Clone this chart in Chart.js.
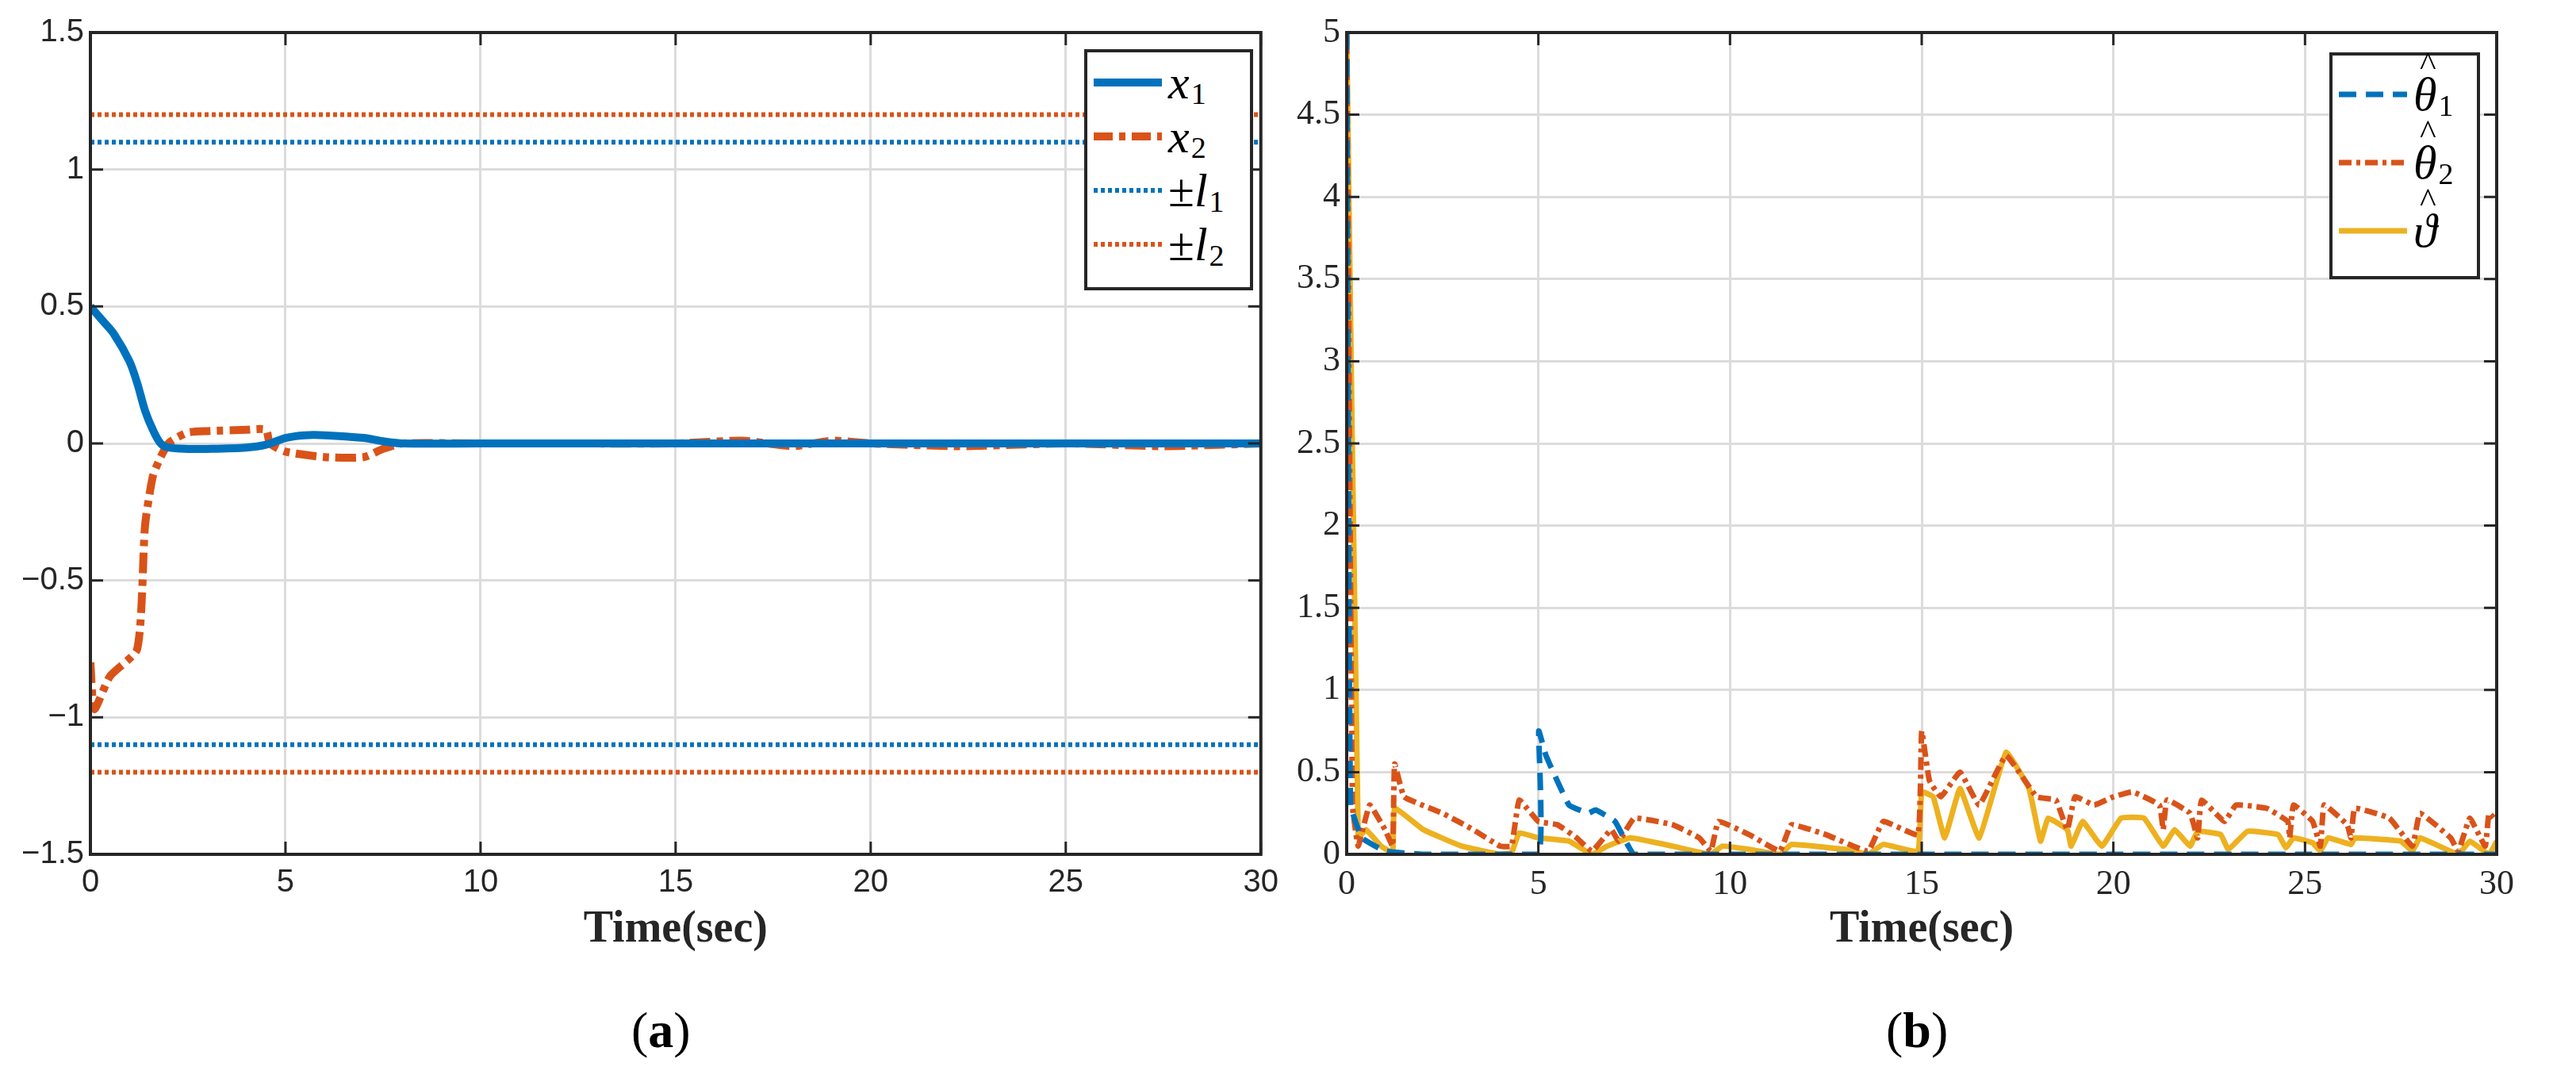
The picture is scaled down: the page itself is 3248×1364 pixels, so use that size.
<!DOCTYPE html>
<html><head><meta charset="utf-8">
<script src="https://cdn.jsdelivr.net/npm/chart.js@4/dist/chart.umd.min.js"></script>
<style>
body{margin:0;width:3248px;height:1364px;background:#fff;position:relative;overflow:hidden}
canvas{position:absolute}
.lg{position:absolute;border:4px solid #262626;background:#fff;font-family:"Liberation Serif",serif;font-style:italic;font-size:60px;color:#000}
.row{display:flex;align-items:center;height:68px;padding-left:8px;line-height:1}
.row svg{margin-right:8px}
.s{font-style:normal;font-size:38px;position:relative;top:14px;margin-left:2px}
.h{position:relative;display:inline-block}
.h i{position:absolute;left:8px;top:-30px;font-style:normal;font-size:44px}
.cap{position:absolute;top:1262px;font-family:"Liberation Serif",serif;font-size:64px}
</style></head><body>
<div style="position:absolute;left:0;top:0;width:1624px;height:1210px"><canvas id="c1"></canvas></div>
<div style="position:absolute;left:1624px;top:0;width:1624px;height:1210px"><canvas id="c2"></canvas></div>
<div class="lg" style="left:1367px;top:62px;width:205px;height:292px;padding-top:4px">
 <div class="row"><svg width="86" height="12"><line x1="0" y1="6" x2="86" y2="6" stroke="#0072BD" stroke-width="10"/></svg>x<span class="s">1</span></div>
 <div class="row"><svg width="86" height="12"><line x1="0" y1="6" x2="86" y2="6" stroke="#D95319" stroke-width="10" stroke-dasharray="24 8 8 8"/></svg>x<span class="s">2</span></div>
 <div class="row"><svg width="86" height="8"><line x1="0" y1="4" x2="86" y2="4" stroke="#0072BD" stroke-width="6" stroke-dasharray="5 4"/></svg><span style="font-style:normal">±</span>l<span class="s">1</span></div>
 <div class="row"><svg width="86" height="8"><line x1="0" y1="4" x2="86" y2="4" stroke="#D95319" stroke-width="6" stroke-dasharray="5 4"/></svg><span style="font-style:normal">±</span>l<span class="s">2</span></div>
</div>
<div class="lg" style="left:2937px;top:66px;width:182px;height:272px;padding-top:6px">
 <div class="row" style="height:86px"><svg width="86" height="10"><line x1="0" y1="5" x2="86" y2="5" stroke="#0072BD" stroke-width="7" stroke-dasharray="22 12"/></svg><span class="h">θ<i>^</i></span><span class="s">1</span></div>
 <div class="row" style="height:86px"><svg width="86" height="10"><line x1="0" y1="5" x2="86" y2="5" stroke="#D95319" stroke-width="7" stroke-dasharray="16 6 5 6"/></svg><span class="h">θ<i>^</i></span><span class="s">2</span></div>
 <div class="row" style="height:86px"><svg width="86" height="10"><line x1="0" y1="5" x2="86" y2="5" stroke="#EDB120" stroke-width="7"/></svg><span class="h">ϑ<i>^</i></span></div>
</div>
<div class="cap" style="left:796px">(<b>a</b>)</div>
<div class="cap" style="left:2378px">(<b>b</b>)</div>
<script>
const tA=[0,0.3,0.6,1,1.2,1.4,1.6,1.8,2,2.5,3,4,4.5,5,5.5,6,7,7.5,8,10,15,20,25,30];
const x1=[0.5,0.45,0.4,0.3,0.22,0.12,0.05,0.0,-0.015,-0.02,-0.02,-0.015,-0.005,0.02,0.03,0.03,0.02,0.008,0,0,0,0,0,0];
const tB=[0,0.1,0.5,1.2,1.4,1.6,1.8,2,2.2,2.5,3,4,4.5,4.6,5,6,7,7.5,8,10,12,15,16.7,18,19,20,22.3,25,27.5,30];
const x2=[-0.8,-0.97,-0.85,-0.75,-0.3,-0.12,-0.05,0,0.02,0.04,0.045,0.05,0.05,0.0,-0.03,-0.05,-0.05,-0.02,0,0,0,0,0.01,-0.01,0.01,0,-0.01,0,-0.01,0];
const yTicksA=[-1.5,-1,-0.5,0,0.5,1,1.5];
const l1=1.1, l2=1.2;
const tR=[0,0.1,0.4,1,2,5,5.01,5.2,5.8,6.3,6.5,7,7.5,10,15,20,25,30];
const th1=[5,0.3,0.1,0.02,0,0,0.75,0.6,0.3,0.25,0.27,0.2,0,0,0,0,0,0];
const tQ=[0,0.15,0.3,0.6,1,1.2,1.25,1.5,2.5,3.3,4,4.3,4.5,5,5.5,6,6.4,6.9,7.1,7.5,8.5,9.2,9.5,9.7,10.5,11.3,11.6,12.5,13.6,14,14.9,15,15.2,15.5,16,16.5,17.2,18,18.5,18.8,19,19.5,20,20.5,21.2,21.3,21.4,22,22.2,22.3,22.9,23.2,24,24.55,24.6,24.7,25.2,25.4,25.5,26.1,26.2,26.3,27.2,27.8,28,28.8,29,29.3,29.7,29.8,30];
const th2=[5,0.3,0.05,0.3,0.15,0.05,0.55,0.35,0.25,0.15,0.05,0.05,0.33,0.2,0.18,0.1,0.02,0.15,0.08,0.22,0.18,0.1,0.02,0.2,0.12,0.02,0.18,0.12,0.02,0.2,0.12,0.75,0.45,0.35,0.5,0.3,0.6,0.35,0.33,0.15,0.35,0.3,0.35,0.38,0.3,0.15,0.33,0.25,0.1,0.33,0.2,0.3,0.28,0.2,0.1,0.3,0.2,0.05,0.3,0.18,0.1,0.28,0.22,0.05,0.25,0.1,0.02,0.22,0.05,0.25,0.2];
const tV=[0,0.3,0.5,0.9,1.2,1.25,2,3,4,4.3,4.5,5,5.8,6.4,6.8,7.4,8.5,9.5,9.8,10.5,11.3,11.6,13,13.6,14,14.9,15,15.3,15.6,16,16.5,17.2,17.8,18.1,18.3,18.8,18.9,19.2,19.7,20.2,20.8,21.3,21.6,22,22.2,22.8,23,23.5,24.3,24.5,24.7,25.2,25.4,25.6,26.2,26.3,27.5,27.8,28,29,29.3,29.8,30];
const vt=[5,0.1,0.15,0.05,0.01,0.28,0.15,0.05,0,0.01,0.13,0.1,0.08,0,0.05,0.1,0.05,0,0.05,0.03,0,0.06,0.03,0,0.06,0.02,0.38,0.35,0.1,0.4,0.1,0.62,0.4,0.08,0.22,0.15,0.05,0.2,0.05,0.22,0.22,0.05,0.15,0.05,0.14,0.12,0.03,0.14,0.12,0.04,0.1,0.07,0.02,0.1,0.06,0.1,0.08,0.02,0.1,0,0.08,0,0.08];
const xTicks=[0,5,10,15,20,25,30];

const pts=(t,v)=>t.map((x,i)=>({x,y:v[i]}));
const hl=(y)=>[{x:0,y},{x:30,y}];
const box={id:'box',afterDraw(c){const a=c.chartArea,g=c.ctx;g.save();g.strokeStyle='#262626';g.lineWidth=4;g.strokeRect(a.left,a.top,a.right-a.left,a.bottom-a.top);
 const xs=c.scales.x,ys=c.scales.y;g.lineWidth=3;
 xs.ticks.forEach(t=>{const p=xs.getPixelForValue(t.value);g.beginPath();g.moveTo(p,a.bottom);g.lineTo(p,a.bottom-16);g.moveTo(p,a.top);g.lineTo(p,a.top+16);g.stroke();});
 ys.ticks.forEach(t=>{const p=ys.getPixelForValue(t.value);g.beginPath();g.moveTo(a.left,p);g.lineTo(a.left+16,p);g.moveTo(a.right,p);g.lineTo(a.right-16,p);g.stroke();});
 g.restore();}};
function opts(yMin,yMax,yw,padR,font,fs,yTicks){
 return {responsive:true,maintainAspectRatio:false,animation:false,
 layout:{padding:{top:41,right:padR,left:0,bottom:0}},
 plugins:{legend:{display:false},tooltip:{enabled:false}},
 elements:{point:{radius:0},line:{tension:0.3}},
 scales:{
  x:{type:'linear',min:0,max:30,afterBuildTicks:s=>{s.ticks=xTicks.map(v=>({value:v}))},
   grid:{color:'#dcdcdc',lineWidth:3,drawTicks:false},border:{display:false},
   ticks:{font:{family:font,size:fs},color:'#262626',padding:12,maxRotation:0},
   title:{display:true,text:'Time(sec)',font:{family:'Liberation Serif',size:56,weight:'bold'},color:'#262626',padding:{top:0}},
   afterFit:s=>{s.height=1210-1077}},
  y:{min:yMin,max:yMax,afterBuildTicks:s=>{s.ticks=yTicks.map(v=>({value:v}))},
   grid:{color:'#dcdcdc',lineWidth:3,drawTicks:false},border:{display:false},
   ticks:{font:{family:font,size:fs},color:'#262626',padding:8,callback:v=>String(v).replace('-','\u2212')},
   afterFit:s=>{s.width=yw}}}};
}
new Chart(document.getElementById('c1'),{type:'line',data:{datasets:[
 {data:hl(l2),borderColor:'#D95319',borderWidth:6,borderDash:[5,4],tension:0},
 {data:hl(-l2),borderColor:'#D95319',borderWidth:6,borderDash:[5,4],tension:0},
 {data:hl(l1),borderColor:'#0072BD',borderWidth:6,borderDash:[5,4],tension:0},
 {data:hl(-l1),borderColor:'#0072BD',borderWidth:6,borderDash:[5,4],tension:0},
 {data:pts(tA,x1),borderColor:'#0072BD',borderWidth:10},
 {data:pts(tB,x2),borderColor:'#D95319',borderWidth:10,borderDash:[26,8,8,8],tension:0.2}
]},options:opts(-1.5,1.5,114,25,'Liberation Sans',40,yTicksA),plugins:[box]});
const yTicksB=[0,0.5,1,1.5,2,2.5,3,3.5,4,4.5,5];
new Chart(document.getElementById('c2'),{type:'line',data:{datasets:[
 {data:pts(tR,th1),borderColor:'#0072BD',borderWidth:7,borderDash:[22,12],tension:0.1},
 {data:pts(tQ,th2),borderColor:'#D95319',borderWidth:7,borderDash:[16,6,5,6],tension:0.1},
 {data:pts(tV,vt),borderColor:'#EDB120',borderWidth:7,tension:0.1}
]},options:opts(0,5,74,100,'Liberation Serif',44,yTicksB),plugins:[box]});
</script></body></html>
